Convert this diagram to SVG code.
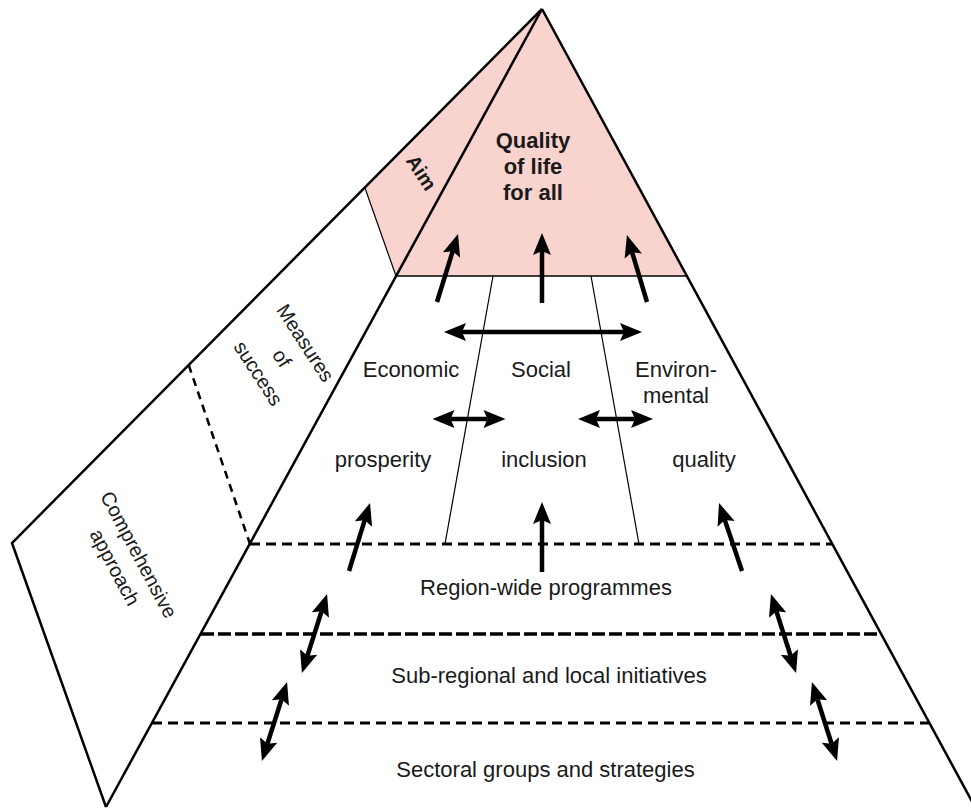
<svg xmlns="http://www.w3.org/2000/svg" width="971" height="809" viewBox="0 0 971 809">
<defs>
<style>
.t{font-family:"Liberation Sans",Arial,sans-serif;font-size:22px;fill:#1a1a1a;text-anchor:middle}
.r{font-size:20px}
.b{font-weight:bold}
.edge{fill:none;stroke:#000;stroke-width:2.5;stroke-linejoin:miter}
.thin{fill:none;stroke:#000;stroke-width:1.2}
.dash{fill:none;stroke:#000;stroke-width:3;stroke-dasharray:10 6}
.dashm{fill:none;stroke:#000;stroke-width:3.6;stroke-dasharray:13 4}
.dashf{fill:none;stroke:#000;stroke-width:2.5;stroke-dasharray:8 6}
.pink{fill:#f9d3ce;stroke:none}
.arr{fill:none;stroke:#000;stroke-width:4.5;marker-end:url(#ah)}
.arr2{fill:none;stroke:#000;stroke-width:4.5;marker-start:url(#ah);marker-end:url(#ah)}
</style>
<marker id="ah" markerUnits="userSpaceOnUse" markerWidth="24" markerHeight="20" refX="4" refY="10" orient="auto-start-reverse" overflow="visible">
<path d="M0,1 L22,10 L0,19 L4,10 Z" fill="#000"/>
</marker>
</defs>
<rect x="0" y="0" width="971" height="809" fill="#fff"/>

<g id="aim-panel">
<polygon class="pink" points="542,9 365,188 396,276"/>
<line class="thin" x1="365" y1="188" x2="396" y2="276"/>
<text class="t b r" transform="translate(421.5,172.5) rotate(57)" x="0" y="7">Aim</text>
</g>

<g id="quality-of-life">
<polygon class="pink" points="542,9 396,276 687,276"/>
<line x1="396" y1="276" x2="687" y2="276" stroke="#000" stroke-width="1.6"/>
<text class="t b" x="533" y="148">Quality</text>
<text class="t b" x="533" y="174">of life</text>
<text class="t b" x="533" y="200">for all</text>
</g>

<g id="flap">
<polyline class="edge" points="542,9 12,543 106,807"/>
<line class="dashf" x1="188.7" y1="365" x2="250" y2="544"/>
</g>

<g id="measures-of-success">
<g transform="translate(282,358) rotate(57)">
<text class="t r" x="0" y="-21">Measures</text>
<text class="t r" x="0" y="7">of</text>
<text class="t r" x="0" y="35">success</text>
</g>
</g>

<g id="comprehensive-approach">
<g transform="translate(127,561) rotate(62)">
<text class="t r" x="0" y="-6.5">Comprehensive</text>
<text class="t r" x="0" y="20.5">approach</text>
</g>
</g>

<g id="pyramid">
<line class="edge" x1="542" y1="9" x2="106" y2="807"/>
<line class="edge" x1="542" y1="9" x2="975" y2="807"/>
<line class="thin" x1="493" y1="276" x2="445" y2="544"/>
<line class="thin" x1="591" y1="276" x2="639" y2="544"/>
</g>

<g id="economic">
<text class="t" x="411" y="377">Economic</text>
<text class="t" x="383" y="467">prosperity</text>
</g>
<g id="social">
<text class="t" x="541" y="377">Social</text>
<text class="t" x="544" y="467">inclusion</text>
</g>
<g id="environmental">
<text class="t" x="676" y="377">Environ-</text>
<text class="t" x="676" y="403">mental</text>
<text class="t" x="704" y="467">quality</text>
</g>

<g id="region-wide">
<line class="dash" x1="250" y1="544" x2="832" y2="544"/>
<text class="t" x="546" y="595">Region-wide programmes</text>
</g>
<g id="sub-regional">
<line class="dashm" x1="201" y1="634" x2="881" y2="634"/>
<text class="t" x="549" y="683">Sub-regional and local initiatives</text>
</g>
<g id="sectoral">
<line class="dash" x1="152" y1="723" x2="929" y2="723"/>
<text class="t" x="545.5" y="777">Sectoral groups and strategies</text>
</g>

<g id="connectors">
<line class="arr" x1="437" y1="302" x2="452.7" y2="251.2"/>
<line class="arr" x1="542" y1="303" x2="542" y2="251"/>
<line class="arr" x1="647" y1="302" x2="632.1" y2="252.2"/>
<line class="arr2" x1="462" y1="332" x2="624" y2="332"/>
<line class="arr2" x1="450.5" y1="419" x2="487.5" y2="419"/>
<line class="arr2" x1="596" y1="419" x2="635" y2="419"/>
<line class="arr" x1="349" y1="571" x2="364.7" y2="520.2"/>
<line class="arr" x1="542" y1="572" x2="542" y2="520"/>
<line class="arr" x1="742" y1="571" x2="724.8" y2="520"/>
<line class="arr2" x1="321.6" y1="611.2" x2="307.4" y2="655.8"/>
<line class="arr2" x1="281.6" y1="699.2" x2="267.4" y2="743.8"/>
<line class="arr2" x1="776.4" y1="611.2" x2="790.6" y2="655.8"/>
<line class="arr2" x1="817.4" y1="699.2" x2="831.6" y2="743.8"/>
</g>
</svg>
